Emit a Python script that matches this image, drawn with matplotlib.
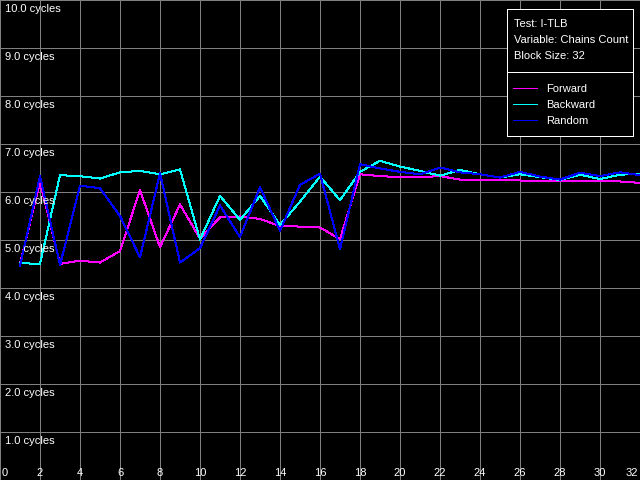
import matplotlib
matplotlib.use("Agg")
import matplotlib.pyplot as plt
from matplotlib.patches import Rectangle

chains = list(range(1, 33))
forward = [4.50, 6.21, 4.50, 4.57, 4.53, 4.77, 6.04, 4.85, 5.74, 5.03,
           5.47, 5.49, 5.44, 5.29, 5.28, 5.26, 5.02, 6.37, 6.33, 6.31,
           6.31, 6.33, 6.26, 6.26, 6.25, 6.24, 6.23, 6.22, 6.22, 6.22,
           6.22, 6.19]
backward = [4.52, 4.50, 6.35, 6.33, 6.28, 6.41, 6.44, 6.37, 6.47, 5.01,
            5.92, 5.42, 5.92, 5.31, 5.80, 6.32, 5.83, 6.42, 6.65, 6.53,
            6.44, 6.34, 6.46, 6.37, 6.30, 6.37, 6.31, 6.25, 6.36, 6.27,
            6.36, 6.38]
random_ = [4.46, 6.33, 4.48, 6.13, 6.08, 5.50, 4.64, 6.39, 4.53, 4.83,
           5.72, 5.06, 6.10, 5.19, 6.15, 6.38, 4.81, 6.58, 6.49, 6.42,
           6.37, 6.51, 6.41, 6.37, 6.30, 6.42, 6.32, 6.26, 6.40, 6.33,
           6.41, 6.35]

series = [("Forward", forward, "#ff00ff"),
          ("Backward", backward, "#00ffff"),
          ("Random", random_, "#0000ff")]
info = ["Test: I-TLB", "Variable: Chains Count", "Block Size: 32"]
y_ticks = [1, 2, 3, 4, 5, 6, 7, 8, 9, 10]
x_ticks = list(range(0, 33, 2))

LW = 0.72  # one pixel at 100 dpi

plt.rcParams["font.family"] = ["Liberation Sans", "DejaVu Sans"]
fig = plt.figure(figsize=(6.4, 4.8), dpi=100, facecolor="black")
ax = fig.add_axes([0, 0, 1, 1])
ax.set_facecolor("black")
ax.set_xlim(0, 32)
ax.set_ylim(0, 10)
ax.axis("off")

for x in x_ticks:
    ax.axvline(x, color="#808080", lw=LW, antialiased=False, zorder=1)
for y in y_ticks:
    ax.axhline(y, color="#808080", lw=LW, antialiased=False, zorder=1)

for name, vals, col in series:
    ax.plot(chains, vals, color=col, lw=LW, antialiased=False, zorder=3)

px = 1 / 20  # data units per pixel in x
py = 1 / 48  # data units per pixel in y
for y in y_ticks:
    ax.text(5 * px, y - 4 * py, f"{y:.1f} cycles", color="white", fontsize=8,
            ha="left", va="top", zorder=4)
for x in x_ticks:
    ha, xx = "center", x
    if x == 0:
        ha, xx = "left", 2 * px
    elif x == 32:
        ha, xx = "right", 32 - 2 * px
    ax.text(xx, 2 * py, str(x), color="white", fontsize=8,
            ha=ha, va="bottom", zorder=4)

# legend box
bx0, bx1 = 507 * px, 633 * px
by0, by1 = 10 - 9 * py, 10 - 136 * py
ax.add_patch(Rectangle((bx0, by1), bx1 - bx0, by0 - by1, facecolor="black",
                       edgecolor="white", lw=LW, antialiased=False, zorder=5))
ax.plot([bx0, bx1], [10 - 72 * py] * 2, color="white", lw=LW,
        antialiased=False, zorder=6)
for i, t in enumerate(info):
    ax.text(514 * px, 10 - (24 + 16 * i) * py, t, color="white", fontsize=8,
            ha="left", va="center", zorder=6)
for i, (name, vals, col) in enumerate(series):
    yy = 10 - (87.5 + 16 * i) * py
    ax.plot([513 * px, 537 * px], [yy, yy], color=col, lw=LW,
            antialiased=False, zorder=6)
    ax.text(546 * px, yy - 1 * py, name, color="white", fontsize=8,
            ha="left", va="center", zorder=6)

fig.savefig("out.png", dpi=100, facecolor="black")
